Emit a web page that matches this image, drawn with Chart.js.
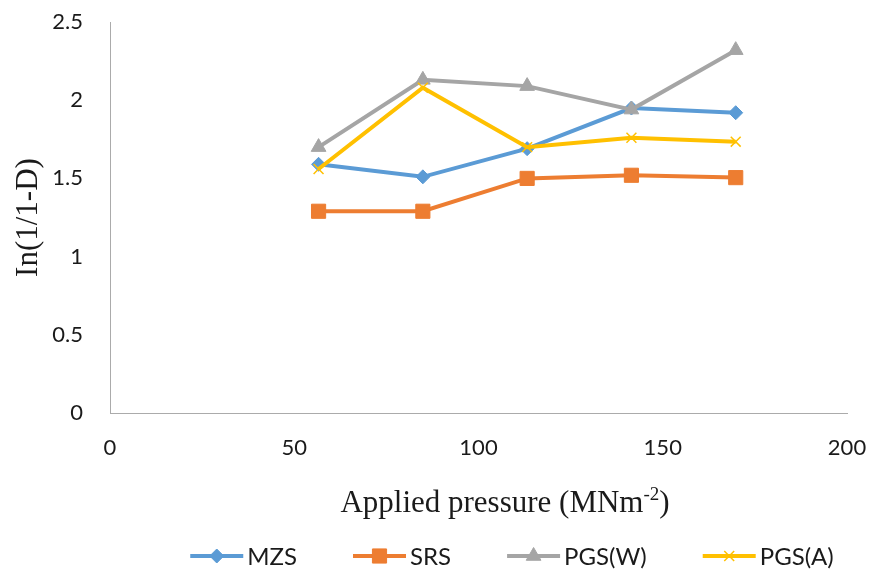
<!DOCTYPE html>
<html><head><meta charset="utf-8">
<script src="https://cdn.jsdelivr.net/npm/chart.js@4.4.0/dist/chart.umd.min.js"></script>
<style>html,body{margin:0;padding:0;background:#fff}#wrap{width:871px;height:569px;position:relative}</style>
</head><body><div id="wrap"><canvas id="c" width="871" height="569"></canvas></div>
<script>
// ---- data ----
const pressure = [56.6, 84.9, 113.2, 141.5, 169.8];
const mzs  = [1.59, 1.51, 1.69, 1.95, 1.92];
const srs  = [1.29, 1.29, 1.50, 1.52, 1.505];
const pgsW = [1.70, 2.13, 2.09, 1.94, 2.32];
const pgsA = [1.56, 2.08, 1.70, 1.76, 1.735];
const seriesNames = ['MZS', 'SRS', 'PGS(W)', 'PGS(A)'];
const xTicks = [0, 50, 100, 150, 200];
const yTicks = [0, 0.5, 1, 1.5, 2, 2.5];
const yTitle = 'In(1/1-D)';
const xTitleMain = 'Applied pressure (MNm';
const xTitleSup = '-2';
const xTitleEnd = ')';

// ---- styles ----
const colors = ['#5B9BD5', '#ED7D31', '#A5A5A5', '#FFC000'];
const styles = [
  {pointStyle: 'rectRot', pointRadius: 7, pointBorderWidth: 1},
  {pointStyle: 'rect', pointRadius: 10, pointBorderWidth: 1},
  {pointStyle: 'triangle', pointRadius: 8.5, pointBorderWidth: 1},
  {pointStyle: 'crossRot', pointRadius: 7, pointBorderWidth: 1.5}
];
const textColor = '#1a1a1a';
const tickFont = {family: 'Lato', size: 22};
const series = [mzs, srs, pgsW, pgsA];

const datasets = series.map((vals, i) => Object.assign({
  label: seriesNames[i],
  data: pressure.map((x, j) => ({x: x, y: vals[j]})),
  showLine: true,
  borderColor: colors[i],
  backgroundColor: colors[i],
  pointBackgroundColor: colors[i],
  pointBorderColor: colors[i],
  borderWidth: 4,
  order: 4 - i,
  tension: 0
}, styles[i]));

function drawMarker(ctx, st, color, x, y) {
  const opts = {pointStyle: st.pointStyle, radius: st.pointRadius, rotation: 0, borderWidth: st.pointBorderWidth};
  ctx.save();
  ctx.fillStyle = color; ctx.strokeStyle = color; ctx.lineWidth = st.pointBorderWidth;
  Chart.helpers.drawPoint(ctx, opts, x, y);
  ctx.restore();
}

const extras = {
  id: 'extras',
  afterDraw(chart) {
    const ctx = chart.ctx;
    // x title with superscript
    ctx.save();
    ctx.fillStyle = textColor;
    ctx.textBaseline = 'alphabetic';
    const fMain = '31px "Liberation Serif"';
    const fSup = '19px "Liberation Serif"';
    ctx.font = fMain;
    const w1 = ctx.measureText(xTitleMain).width;
    const w3 = ctx.measureText(xTitleEnd).width;
    ctx.font = fSup;
    const w2 = ctx.measureText(xTitleSup).width;
    const total = w1 + w2 + w3;
    let x0 = 505 - total / 2;
    const base = 512;
    ctx.textAlign = 'left';
    ctx.font = fMain; ctx.fillText(xTitleMain, x0, base);
    ctx.font = fSup; ctx.fillText(xTitleSup, x0 + w1, base - 12);
    ctx.font = fMain; ctx.fillText(xTitleEnd, x0 + w1 + w2, base);
    ctx.restore();

    // legend
    ctx.save();
    const lf = '24px Lato';
    ctx.font = lf;
    const lineLen = 53, gap = 4, spacing = 56;
    const widths = seriesNames.map(n => lineLen + gap + ctx.measureText(n).width);
    const tot = widths.reduce((a, b) => a + b, 0) + spacing * (seriesNames.length - 1);
    let lx = 512 - tot / 2;
    const ly = 556;
    seriesNames.forEach((n, i) => {
      ctx.strokeStyle = colors[i];
      ctx.lineWidth = 4;
      ctx.beginPath(); ctx.moveTo(lx, ly); ctx.lineTo(lx + lineLen, ly); ctx.stroke();
      drawMarker(ctx, styles[i], colors[i], lx + lineLen / 2, ly);
      ctx.fillStyle = textColor;
      ctx.textBaseline = 'middle';
      ctx.textAlign = 'left';
      ctx.font = lf;
      ctx.fillText(n, lx + lineLen + gap, ly + 1);
      lx += widths[i] + spacing;
    });
    ctx.restore();
  }
};

new Chart(document.getElementById('c'), {
  type: 'scatter',
  data: {datasets: datasets},
  plugins: [extras],
  options: {
    responsive: false,
    animation: false,
    devicePixelRatio: 1,
    layout: {autoPadding: false, padding: {left: 0, right: 24, top: 22, bottom: 0}},
    plugins: {legend: {display: false}, tooltip: {enabled: false}},
    scales: {
      x: {
        type: 'linear', min: 0, max: 200,
        afterBuildTicks: s => { s.ticks = xTicks.map(v => ({value: v})); },
        afterFit: s => { s.height = 156; },
        grid: {display: true, drawOnChartArea: false, drawTicks: true, tickLength: 22, color: 'rgba(0,0,0,0)'},
        border: {display: true, color: '#ababab', width: 1},
        ticks: {font: tickFont, color: textColor, padding: 0, maxRotation: 0, callback: v => String(v)}
      },
      y: {
        type: 'linear', min: 0, max: 2.5,
        afterBuildTicks: s => { s.ticks = yTicks.map(v => ({value: v})); },
        afterFit: s => { s.width = 110; },
        grid: {display: true, drawOnChartArea: false, drawTicks: true, tickLength: 27, color: 'rgba(0,0,0,0)'},
        border: {display: true, color: '#ababab', width: 1},
        ticks: {font: tickFont, color: textColor, padding: 0, callback: v => String(v)},
        title: {display: true, text: yTitle, font: {family: 'Liberation Serif', size: 31}, color: textColor, padding: {top: 10, bottom: 0}}
      }
    }
  }
});
</script></body></html>
